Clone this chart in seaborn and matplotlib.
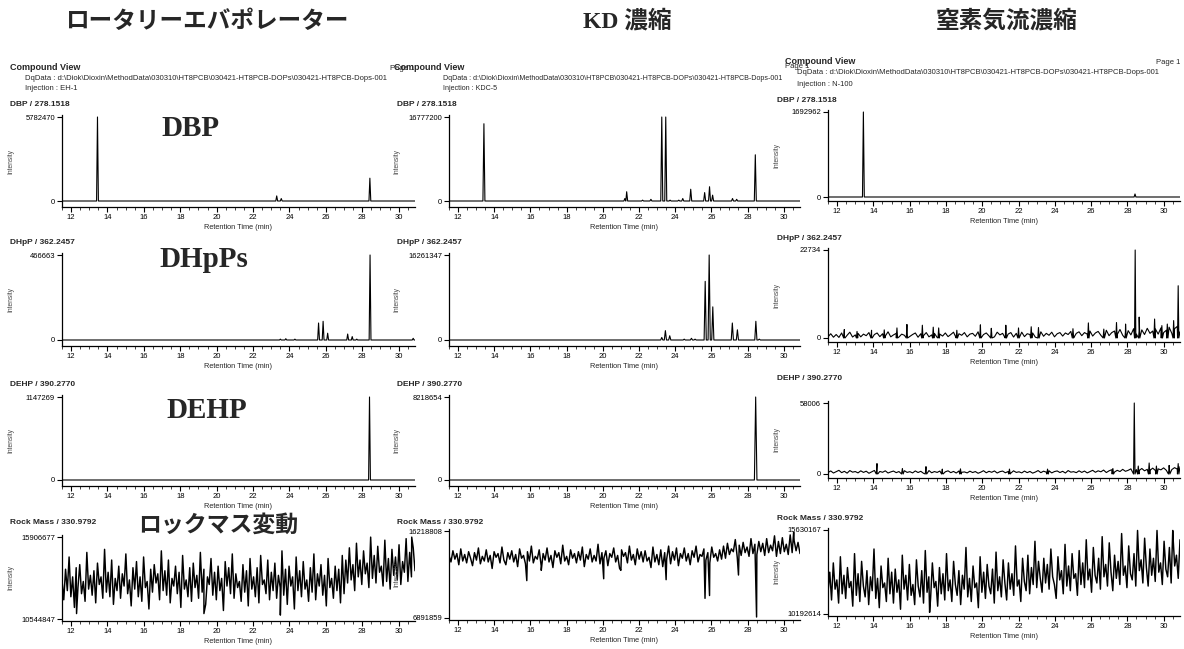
import matplotlib.pyplot as plt
import numpy as np
import seaborn as sns
from matplotlib.ticker import MultipleLocator

sns.set_style('white')
plt.rcParams['font.family'] = ['Liberation Sans', 'Noto Sans CJK JP', 'DejaVu Sans']

# ---------------- data ----------------
methods = ['ロータリーエバポレーター', 'KD 濃縮', '窒素気流濃縮']
injections = ['EH-1', 'KDC-5', 'N-100']
compounds = ['DBP / 278.1518', 'DHpP / 362.2457', 'DEHP / 390.2770', 'Rock Mass / 330.9792']
overlays = ['DBP', 'DHpPs', 'DEHP']
dq_path = r'd:\Diok\Dioxin\MethodData\030310\HT8PCB\030421-HT8PCB-DOPs\030421-HT8PCB-Dops-001'

# y-axis end values shown on each panel
dbp_max = [5782470, 16777200, 1692962]
dhpp_max = [466663, 16261347, 22734]
dehp_max = [1147269, 8218654, 58006]
rock_max = [15906677, 16218808, 15630167]
rock_min = [10544847, 6891859, 10192614]

# peaks: apex retention time (min) and intensity
dbp_eh1_t = [13.45, 23.3, 23.55, 28.42]
dbp_eh1_h = [5782470, 350000, 170000, 1570000]
dbp_kdc_t = [13.43, 21.22, 21.32, 22.2, 22.66, 23.26, 23.48, 23.72, 24.2, 24.42, 24.86,
             25.63, 25.9, 26.07, 27.17, 27.4, 28.43]
dbp_kdc_h = [15430000, 500000, 1850000, 170000, 335000, 16777200, 16777200, 170000, 170000,
             500000, 2350000, 1680000, 2850000, 1170000, 500000, 335000, 9230000]
dbp_n100_t = [13.45, 28.42]
dbp_n100_h = [1692962, 60000]

dhpp_eh1_t = [23.5, 23.8, 24.3, 25.6, 25.85, 26.1, 27.2, 27.45, 27.7, 28.43, 30.8]
dhpp_eh1_h = [4700, 7000, 4700, 93300, 102700, 37300, 32700, 18700, 4700, 466663, 9300]
dhpp_kdc_t = [23.26, 23.46, 23.7, 24.5, 24.9, 25.1, 25.66, 25.88, 26.08, 27.16, 27.44, 28.46, 28.65]
dhpp_kdc_h = [490000, 1790000, 810000, 160000, 325000, 160000, 11220000, 16261347, 6340000,
              3250000, 1950000, 3580000, 160000]
dhpp_n100_t = [12.4, 13.1, 13.9, 14.6, 15.3, 15.85, 16.7, 17.3, 17.6, 18.6, 19.9, 20.5, 21.3,
               22.0, 22.7, 23.1, 25.0, 25.85, 26.7, 27.4, 27.9, 28.43, 28.65, 29.5, 29.9, 30.2,
               30.55, 30.8]
dhpp_n100_h = [2200, 1700, 2000, 2100, 2600, 3500, 3300, 2800, 2600, 2000, 3400, 2500, 3300,
               2600, 2900, 2700, 2400, 3900, 2300, 4000, 3600, 22734, 5400, 4900, 3200, 3600,
               4500, 13500]
dhpp_n100_base = [
    300, 1100, 200, 900, 150, 1300, 400, 700, 1500, 250,
    800, 1200, 300, 1000, 600, 1400, 200, 900, 1300, 350,
    1100, 500, 1600, 300, 800, 1200, 250, 1000, 700, 1500,
    400, 900, 1300, 200, 1100, 600, 1400, 300, 800, 1200,
    150, 1000, 500, 1300, 350, 900, 1500, 250, 1100, 700,
    1400, 300, 1000, 1200, 450, 1600, 200, 900, 1300, 550,
    1100, 300, 1500, 800, 1200, 400, 1000, 1400, 250, 1200,
    600, 1500, 350, 1100, 900, 1300, 200, 1000, 1600, 450,
    1200, 700, 1500, 300, 1100, 1400, 500, 1300, 900, 1700,
    400, 1200, 1600, 600, 1400, 1000, 1800, 500, 1300, 1700,
    700, 1500, 2000, 600, 1400, 1800, 900, 2200, 700, 1600,
    1900, 800, 2400, 1000, 1700, 2100, 900, 2500, 1200, 1800,
    2300, 1000, 2600, 1400, 2000, 2800, 1200, 2400, 3000, 1600]

dehp_eh1_t = [28.4]
dehp_eh1_h = [1147269]
dehp_kdc_t = [28.45]
dehp_kdc_h = [8218654]
dehp_n100_t = [14.2, 15.6, 16.9, 17.8, 18.8, 21.5, 23.6, 27.2, 28.38, 28.6, 29.2, 29.6, 30.3, 30.8]
dehp_n100_h = [8500, 4500, 6000, 4000, 4200, 4000, 4000, 4500, 58006, 6500, 9000, 6500, 7000, 8500]
dehp_n100_base = [
    1200, 2500, 800, 1900, 3000, 1100, 2200, 700, 2800, 1500,
    2000, 900, 2600, 1300, 2300, 600, 1800, 2900, 1000, 2100,
    1400, 2600, 800, 1700, 2400, 1100, 2000, 700, 2700, 1300,
    1900, 900, 2500, 1200, 2200, 600, 1600, 2800, 1000, 2000,
    1300, 2400, 700, 1800, 2600, 1100, 2100, 800, 2500, 1400,
    1700, 900, 2300, 1200, 2000, 600, 1500, 2700, 1000, 2200,
    1400, 2500, 800, 1900, 2400, 1000, 2000, 700, 2600, 1300,
    1800, 900, 2400, 1100, 2100, 700, 1600, 2800, 1100, 2300,
    1500, 2600, 900, 2000, 2500, 1200, 2200, 800, 2800, 1500,
    1900, 1100, 2600, 1300, 2400, 900, 2000, 3000, 1400, 2600,
    1800, 3200, 1200, 2600, 3500, 1600, 3000, 2000, 3800, 2200,
    3000, 4200, 2400, 3600, 2800, 4500, 2600, 3800, 3000, 4800,
    2800, 4200, 3400, 5000, 3000, 4600, 3600, 5200, 4000, 6000]

# lock mass traces, in units of 100000 counts
rm_eh1 = [
    131, 118, 138, 124, 146, 120, 133, 113, 139, 126, 141, 122, 130, 117, 149, 125, 134, 121, 137, 116,
    142, 128, 133, 119, 151, 123, 136, 120, 144, 115, 132, 124, 140, 119, 135, 127, 148, 122, 131, 114,
    139, 125, 143, 120, 133, 117, 146, 126, 130, 112, 138, 123, 141, 129, 135, 118, 150, 124, 137, 121,
    144, 116, 132, 127, 140, 122, 136, 113, 147, 125, 131, 120, 139, 117, 142, 126, 134, 119, 149, 123,
    138, 115, 133, 128, 145, 121, 136, 118, 140, 124, 132, 111, 143, 127, 139, 122, 148, 119, 135, 126,
    130, 117, 141, 123, 137, 114, 145, 125, 133, 120, 139, 116, 147, 128, 131, 122, 144, 118, 136, 124,
    142, 119, 134, 126, 150, 121, 138, 115, 140, 127, 133, 112, 146, 124, 137, 120, 143, 125, 131, 117,
    139, 123, 148, 118, 135, 127, 141, 121, 134, 114, 145, 126, 132, 119, 140, 124, 138, 116, 147, 122,
    144, 129, 152, 131, 141, 124, 155, 133, 144, 128, 150, 135, 142, 126, 159, 132, 147, 129, 153, 136,
    140, 127, 157, 130, 145, 125, 151, 134, 146, 131, 154, 128, 143, 136, 158, 130, 149, 133, 152, 137]
rm_eh1_t = [12.3, 19.3, 23.5, 30.72]
rm_eh1_v = [109, 109, 108, 159]

rm_kdc = [
    136, 129, 141, 132, 138, 126, 143, 130, 137, 128, 140, 133, 125, 139, 131, 144, 127, 135, 130, 142,
    129, 136, 122, 140, 134, 138, 128, 145, 131, 126, 139, 132, 141, 129, 137, 124, 143, 133, 136, 127,
    140, 130, 146, 128, 135, 132, 142, 125, 138, 131, 144, 129, 136, 123, 141, 134, 139, 127, 147, 130,
    135, 126, 142, 133, 138, 128, 140, 131, 145, 124, 137, 132, 143, 129, 136, 130, 148, 127, 139, 133,
    141, 125, 138, 134, 144, 129, 136, 122, 142, 135, 139, 128, 146, 131, 137, 126, 143, 132, 140, 129,
    141, 130, 134, 123, 145, 129, 137, 126, 142, 124, 139, 132, 146, 127, 140, 131, 144, 125, 138, 133,
    144, 130, 138, 126, 141, 134, 146, 129, 137, 135, 143, 131, 139, 128, 145, 134, 138, 130, 142, 132,
    146, 133, 149, 137, 143, 140, 153, 134, 147, 136, 150, 139, 145, 135, 154, 138, 148, 137, 151, 140,
    149, 136, 154, 139, 147, 141, 157, 135, 151, 138, 155, 140, 148, 137, 158, 139, 152, 141, 150, 138]
rm_kdc_t = [15.8, 16.6, 20.05, 21.0, 23.5, 25.65, 25.9, 27.5, 28.5, 30.55]
rm_kdc_v = [109, 120, 111, 120, 110, 90, 93, 115, 70, 161]

rm_n100 = [
    116, 129, 111, 135, 118, 124, 109, 139, 115, 127, 112, 132, 119, 123, 107, 141, 114, 128, 110, 136,
    120, 113, 130, 108, 126, 117, 144, 112, 125, 106, 133, 119, 122, 110, 138, 115, 129, 109, 131, 116,
    124, 105, 140, 118, 127, 111, 134, 114, 121, 108, 137, 120, 113, 130, 109, 143, 116, 126, 112, 135,
    119, 123, 107, 132, 115, 128, 111, 141, 117, 124, 110, 136, 121, 114, 130, 108, 127, 118, 145, 113,
    125, 110, 133, 119, 122, 106, 139, 116, 129, 112, 134, 120, 115, 131, 109, 142, 117, 126, 113, 137,
    122, 111, 135, 118, 128, 114, 146, 120, 124, 110, 138, 123, 117, 140, 115, 132, 121, 149, 119, 136,
    125, 116, 138, 122, 134, 118, 144, 126, 121, 112, 139, 124, 130, 115, 147, 120, 133, 117, 141, 125,
    128, 114, 143, 121, 135, 119, 150, 124, 131, 116, 145, 127, 122, 138, 118, 152, 126, 134, 120, 148,
    129, 117, 140, 125, 136, 121, 154, 127, 133, 119, 146, 128, 124, 141, 120, 156, 130, 137, 122, 151,
    132, 120, 144, 127, 138, 123, 156, 129, 135, 121, 149, 131, 126, 145, 122, 153, 133, 140, 125, 150]
rm_n100_t = [17.1, 30.5]
rm_n100_v = [103, 156]

# ---------------- layout (pixels of a 1184 x 649 page) ----------------
W, H = 1184, 649
XMIN, XMAX = 11.5, 30.9
col_lr = [(62, 415), (449, 800), (828, 1180)]
# axes top, axes bottom, y of upper tick, y of lower tick
row_px = [
    [(115, 207, 117, 201), (253, 346, 255, 340), (395, 486, 397, 480), (535, 621, 537, 619)],
    [(115, 207, 117, 201), (253, 346, 255, 340), (395, 486, 397, 480), (529, 620, 531, 618)],
    [(110, 201, 112, 197), (248, 342, 250, 338), (401, 478, 403, 474), (528, 616, 530, 614)],
]
title_x = [10, 397, 777]
title_y = [[105, 243, 384, 522], [105, 243, 384, 522], [100, 239, 378, 518]]
ylabel_x = [14, 400, 780]


def fx(x):
    return x / W


def fy(y):
    return 1 - y / H


def make_trace(base, pk_t, pk_h, hw):
    xs = list(np.linspace(XMIN, XMAX, len(base)))
    ys = list(base)
    for c, h in zip(pk_t, pk_h):
        if hw > 0:
            xs += [c - hw, c, c + hw]
            ys += [0, h, 0]
        else:
            xs.append(c)
            ys.append(h)
    order = np.argsort(xs, kind='stable')
    return np.asarray(xs)[order], np.asarray(ys, dtype=float)[order]


U = 1e5
panels = [
    [  # rotary evaporator
        (make_trace([0, 0], dbp_eh1_t, dbp_eh1_h, 0.05), 0, dbp_max[0]),
        (make_trace([0, 0], dhpp_eh1_t, dhpp_eh1_h, 0.05), 0, dhpp_max[0]),
        (make_trace([0, 0], dehp_eh1_t, dehp_eh1_h, 0.05), 0, dehp_max[0]),
        (make_trace(np.array(rm_eh1) * U, rm_eh1_t, np.array(rm_eh1_v) * U, 0), rock_min[0], rock_max[0]),
    ],
    [  # KD
        (make_trace([0, 0], dbp_kdc_t, dbp_kdc_h, 0.055), 0, dbp_max[1]),
        (make_trace([0, 0], dhpp_kdc_t, dhpp_kdc_h, 0.06), 0, dhpp_max[1]),
        (make_trace([0, 0], dehp_kdc_t, dehp_kdc_h, 0.07), 0, dehp_max[1]),
        (make_trace(np.array(rm_kdc) * U, rm_kdc_t, np.array(rm_kdc_v) * U, 0), rock_min[1], rock_max[1]),
    ],
    [  # nitrogen stream
        (make_trace([0, 0], dbp_n100_t, dbp_n100_h, 0.05), 0, dbp_max[2]),
        (make_trace(dhpp_n100_base, dhpp_n100_t, dhpp_n100_h, 0.035), 0, dhpp_max[2]),
        (make_trace(dehp_n100_base, dehp_n100_t, dehp_n100_h, 0.04), 0, dehp_max[2]),
        (make_trace(np.array(rm_n100) * U, rm_n100_t, np.array(rm_n100_v) * U, 0), rock_min[2], rock_max[2]),
    ],
]

fig = plt.figure(figsize=(W / 100, H / 100), dpi=100)

for c in range(3):
    left, right = col_lr[c]
    for r in range(4):
        top, bot, y_hi, y_lo = row_px[c][r]
        (x, y), v_lo, v_hi = panels[c][r]
        ax = fig.add_axes([fx(left), fy(bot), (right - left) / W, (bot - top) / H])
        sns.lineplot(x=x, y=y, ax=ax, color='black', lw=0.8 if r < 3 else 1.05,
                     estimator=None, sort=False)
        per = (v_hi - v_lo) / (y_lo - y_hi)
        ax.set_ylim(v_lo - (bot - y_lo) * per, v_hi + (y_hi - top) * per)
        ax.set_xlim(XMIN, XMAX)
        ax.set_xticks(range(12, 31, 2))
        ax.xaxis.set_minor_locator(MultipleLocator(0.5))
        ax.set_yticks([v_lo, v_hi])
        ax.set_yticklabels([str(v_lo), str(v_hi)])
        ax.tick_params(axis='both', which='major', direction='out', length=3.5, width=0.8,
                       labelsize=5.5, pad=1.5, bottom=True, left=True, colors='black')
        ax.tick_params(axis='x', which='minor', direction='out', length=2, width=0.6, bottom=True)
        sns.despine(ax=ax)
        for s in ['left', 'bottom']:
            ax.spines[s].set_color('black')
            ax.spines[s].set_linewidth(0.9)
        ax.set_xlabel('Retention Time (min)', fontsize=5.3, labelpad=2)
        ax.set_ylabel('Intensity', fontsize=4.8, color='#444444')
        ax.yaxis.set_label_coords((ylabel_x[c] - left) / (right - left), 0.5)
        fig.text(fx(title_x[c]), fy(title_y[c][r]), compounds[r], fontsize=6, fontweight='bold',
                 va='center', ha='left')

# page headers
header = [(10, 67, 25, 78, 88, 5.5), (394, 67, 443, 79, 88, 5.1), (785, 62, 797, 73, 84, 5.5)]
for c, (hx, hy, dx, dy, iy, fs) in enumerate(header):
    fig.text(fx(hx), fy(hy), 'Compound View', fontsize=6.5, fontweight='bold', va='center')
    fig.text(fx(dx), fy(dy), 'DqData : ' + dq_path, fontsize=fs, va='center')
    fig.text(fx(dx), fy(iy), 'Injection : ' + injections[c], fontsize=fs, va='center')
fig.text(fx(390), fy(68), 'Page 1', fontsize=5.5, va='center')
fig.text(fx(785), fy(67), 'Page 1', fontsize=5.5, va='center')
fig.text(fx(1180), fy(63), 'Page 1', fontsize=5.5, va='center', ha='right')

# method titles
title_cx = [207, 627, 1007]
for c in range(3):
    fam = ['Liberation Serif', 'Noto Sans CJK JP'] if c == 1 else ['Noto Sans CJK JP', 'DejaVu Sans']
    fig.text(fx(title_cx[c]), fy(21), methods[c], fontsize=17, fontweight='bold', family=fam,
             ha='center', va='center')

# compound overlays
over_xy = [(190, 128), (204, 259), (207, 411)]
for (ox, oy), lab in zip(over_xy, overlays):
    fig.text(fx(ox), fy(oy), lab, fontsize=21, fontweight='bold', family='Liberation Serif',
             ha='center', va='center')
fig.text(fx(218), fy(525), 'ロックマス変動', fontsize=16.5, fontweight='bold',
         family=['Noto Sans CJK JP', 'DejaVu Sans'], ha='center', va='center')

fig.savefig('out.png', dpi=100)
